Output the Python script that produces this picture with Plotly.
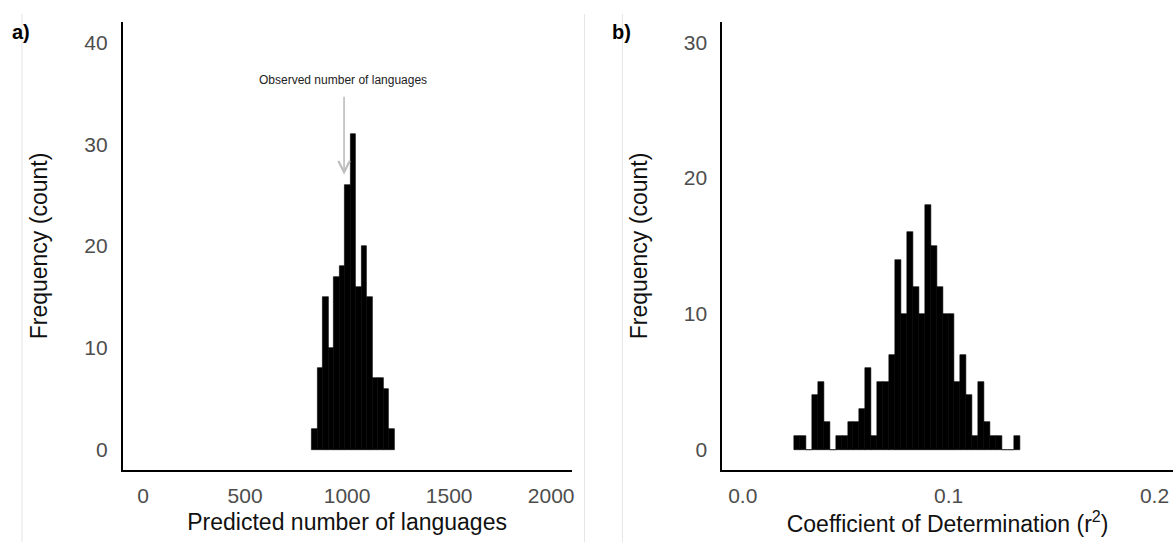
import plotly.graph_objects as go

# ---- data ----
# Panel a: predicted number of languages (histogram)
a_bin_start = 827
a_bin_width = 27
a_counts = [2, 8, 15, 10, 17, 18, 26, 31, 16, 20, 15, 7, 7, 6, 2]

# Panel b: coefficient of determination (histogram)
b_bin_start = 0.025
b_bin_width = 0.002886
b_counts = [1, 1, 0, 4, 5, 2, 0, 1, 1, 2, 2, 3, 6, 1, 5, 5, 7, 14, 10, 16,
            12, 10, 18, 15, 12, 10, 10, 5, 7, 4, 1, 5, 2, 1, 1, 0, 0, 1]

a_xticks = [0, 500, 1000, 1500, 2000]
a_yticks = [0, 10, 20, 30, 40]
b_xticks = [0.0, 0.1, 0.2]
b_xticklabels = ["0.0", "0.1", "0.2"]
b_yticks = [0, 10, 20, 30]

observed_x = 985
observed_label = "Observed number of languages"

a_centers = [a_bin_start + a_bin_width * (i + 0.5) for i in range(len(a_counts))]
b_centers = [b_bin_start + b_bin_width * (i + 0.5) for i in range(len(b_counts))]

FONT = "Liberation Sans, Arial, sans-serif"
W, H = 1176, 542

def px_x(p):
    return p / W

def px_y(p):
    return 1 - p / H

fig = go.Figure()
fig.add_trace(go.Bar(x=a_centers, y=a_counts, width=a_bin_width,
                     marker=dict(color="black", line=dict(color="black", width=0.6)),
                     xaxis="x", yaxis="y", showlegend=False))
fig.add_trace(go.Bar(x=b_centers, y=b_counts, width=b_bin_width,
                     marker=dict(color="black", line=dict(color="black", width=0.6)),
                     xaxis="x2", yaxis="y2", showlegend=False))

tickfont = dict(family=FONT, size=21, color="#4d4d4d")
titlefont = dict(family=FONT, size=23, color="#111111")
common_y = dict(showgrid=False, zeroline=False, showline=True, linecolor="black",
                linewidth=1.6, ticks="outside", ticklen=9, tickcolor="rgba(0,0,0,0)",
                tickfont=tickfont)
common_x = dict(showgrid=False, zeroline=False, showline=True, linecolor="black",
                linewidth=1.6, ticks="outside", ticklen=6, tickcolor="rgba(0,0,0,0)",
                tickfont=tickfont)

fig.update_layout(
    width=W, height=H,
    margin=dict(l=0, r=0, t=0, b=0),
    paper_bgcolor="white", plot_bgcolor="white",
    bargap=0,
    xaxis=dict(common_x, domain=[px_x(123), px_x(573)], range=[-100, 2100],
               tickvals=a_xticks, anchor="y",
               title=dict(text="Predicted number of languages", font=titlefont, standoff=8)),
    yaxis=dict(common_y, domain=[px_y(470), px_y(22)], range=[-2, 42],
               tickvals=a_yticks, anchor="x",
               title=dict(text="Frequency (count)", font=titlefont, standoff=30)),
    xaxis2=dict(common_x, domain=[px_x(724), 1.0], range=[-0.01, 0.209],
                tickvals=b_xticks, ticktext=b_xticklabels, anchor="y2",
                title=dict(text="Coefficient of Determination (r<sup>2</sup>)", font=titlefont, standoff=8)),
    yaxis2=dict(common_y, domain=[px_y(470), px_y(22)], range=[-1.5, 31.5],
                tickvals=b_yticks, anchor="x2",
                title=dict(text="Frequency (count)", font=titlefont, standoff=30)),
    annotations=[
        dict(x=observed_x, y=27.0, xref="x", yref="y", ax=observed_x, ay=34.8,
             axref="x", ayref="y", text="", showarrow=True, arrowhead=5,
             arrowsize=1.4, arrowwidth=1.6, arrowcolor="#bdbdbd"),
        dict(x=observed_x - 5, y=36.3, xref="x", yref="y", text=observed_label,
             showarrow=False, font=dict(family=FONT, size=12, color="#222222")),
        dict(x=px_x(10), y=px_y(32), xref="paper", yref="paper", text="<b>a)</b>",
             showarrow=False, xanchor="left", yanchor="middle",
             font=dict(family=FONT, size=20, color="black")),
        dict(x=px_x(612), y=px_y(32), xref="paper", yref="paper", text="<b>b)</b>",
             showarrow=False, xanchor="left", yanchor="middle",
             font=dict(family=FONT, size=20, color="black")),
    ],
    shapes=[
        dict(type="line", xref="paper", yref="paper", x0=px_x(22), x1=px_x(22),
             y0=px_y(14), y1=px_y(542), line=dict(color="#e6e6e6", width=1)),
        dict(type="line", xref="paper", yref="paper", x0=px_x(586), x1=px_x(586),
             y0=px_y(14), y1=px_y(542), line=dict(color="#e6e6e6", width=1)),
        dict(type="line", xref="paper", yref="paper", x0=px_x(624), x1=px_x(624),
             y0=px_y(14), y1=px_y(542), line=dict(color="#e6e6e6", width=1)),
    ],
)

fig.write_html("out.html")
